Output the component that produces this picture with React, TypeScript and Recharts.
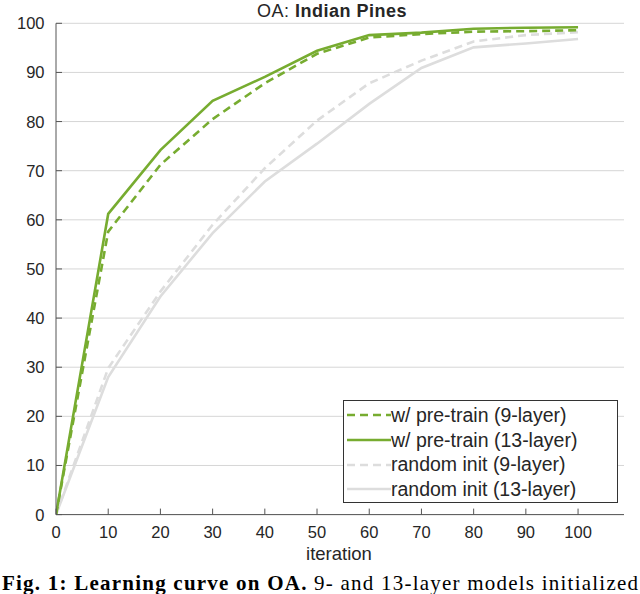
import { LineChart, Line, XAxis, YAxis, CartesianGrid, Legend } from 'recharts'

// learning curve values (overall accuracy, %)
const iterations = [0, 10, 20, 30, 40, 50, 60, 70, 80, 90, 100]
const preTrain9 = [0, 57.6, 71.2, 80.5, 87.8, 93.8, 97.1, 97.8, 98.3, 98.4, 98.6]
const preTrain13 = [0, 61.2, 74.2, 84.2, 89.1, 94.4, 97.6, 98.1, 98.9, 99.1, 99.2]
const random9 = [0, 29.8, 45.4, 59.0, 70.5, 80.2, 87.8, 92.4, 96.3, 97.6, 98.2]
const random13 = [0, 28.0, 44.4, 57.3, 67.8, 75.5, 83.6, 90.9, 95.1, 95.9, 96.8]

const xTicks = [0, 10, 20, 30, 40, 50, 60, 70, 80, 90, 100]
const yTicks = [0, 10, 20, 30, 40, 50, 60, 70, 80, 90, 100]

const GREEN = '#77ac30'
const GRAY = '#dddddd'
const AXIS = '#555555'
const TEXT = '#262626'

const data = iterations.map((it, i) => ({
  it,
  pre9: preTrain9[i],
  pre13: preTrain13[i],
  rand9: random9[i],
  rand13: random13[i],
}))

const series = [
  { key: 'pre9', name: 'w/ pre-train (9-layer)', color: GREEN, dash: '8 5' },
  { key: 'pre13', name: 'w/ pre-train (13-layer)', color: GREEN, dash: undefined },
  { key: 'rand9', name: 'random init (9-layer)', color: GRAY, dash: '8 5' },
  { key: 'rand13', name: 'random init (13-layer)', color: GRAY, dash: undefined },
]

function XTick({ x, y, payload }: any) {
  return (
    <g>
      <line x1={x} x2={x} y1={y} y2={y - 6} stroke={AXIS} />
      <text x={x} y={y + 23} textAnchor="middle" fontSize={16.5} fill={TEXT}>
        {payload.value}
      </text>
    </g>
  )
}

function YTick({ x, y, payload }: any) {
  return (
    <g>
      <line x1={x} x2={x + 6} y1={y} y2={y} stroke={AXIS} />
      <text x={x - 11.5} y={y + 6} textAnchor="end" fontSize={16.5} fill={TEXT}>
        {payload.value}
      </text>
    </g>
  )
}

function LegendBox() {
  return (
    <div
      style={{
        boxSizing: 'border-box',
        width: 275,
        height: 103,
        border: '1px solid #333',
        background: '#fff',
        paddingTop: 2,
        fontSize: 19.5,
        color: TEXT,
      }}
    >
      {series.map((s) => (
        <div key={s.key} style={{ display: 'flex', alignItems: 'center', height: 24.7 }}>
          <svg width={47} height={10} style={{ flex: 'none' }}>
            <line x1={3} x2={47} y1={5} y2={5} stroke={s.color} strokeWidth={2.5} strokeDasharray={s.dash} />
          </svg>
          <span style={{ whiteSpace: 'nowrap' }}>{s.name}</span>
        </div>
      ))}
    </div>
  )
}

export default function App() {
  const drawOrder = [series[3], series[2], series[0], series[1]]
  return (
    <div
      style={{
        position: 'absolute',
        left: 0,
        top: 0,
        width: 640,
        height: 594,
        background: '#fff',
        fontFamily: '"Liberation Sans", Arial, sans-serif',
        overflow: 'hidden',
      }}
    >
      <LineChart width={640} height={594} data={data} margin={{ top: 23.3, right: 16, bottom: 49.4, left: 0 }}>
        <CartesianGrid vertical={false} stroke="#d6d6d6" />
        <XAxis
          dataKey="it"
          type="number"
          domain={[0, 108.8]}
          ticks={xTicks}
          height={30}
          tickSize={0}
          tickMargin={0}
          tickLine={false}
          axisLine={{ stroke: AXIS }}
          tick={<XTick />}
          allowDataOverflow
        />
        <YAxis
          type="number"
          domain={[0, 100]}
          ticks={yTicks}
          width={56}
          tickSize={0}
          tickMargin={0}
          tickLine={false}
          axisLine={{ stroke: AXIS }}
          tick={<YTick />}
        />
        {drawOrder.map((s) => (
          <Line
            key={s.key}
            dataKey={s.key}
            name={s.name}
            type="linear"
            stroke={s.color}
            strokeWidth={2.6}
            strokeDasharray={s.dash}
            dot={false}
            activeDot={false}
            isAnimationActive={false}
          />
        ))}
        <Legend
          layout="vertical"
          align="center"
          verticalAlign="middle"
          wrapperStyle={{ left: 343, top: 400, width: 275, height: 103 }}
          content={() => <LegendBox />}
        />
      </LineChart>
      <svg
        width={640}
        height={594}
        style={{ position: 'absolute', left: 0, top: 0, pointerEvents: 'none' }}
      >
        <text x={332} y={16.5} textAnchor="middle" fontSize={18} letterSpacing={0.5} fill={TEXT}>
          OA: <tspan fontWeight="bold">Indian Pines</tspan>
        </text>
        <text x={339} y={560} textAnchor="middle" fontSize={18.5} fill={TEXT}>
          iteration
        </text>
        <text
          x={2}
          y={590}
          fontSize={21}
          fill="#000"
          fontFamily='"Liberation Serif", "Times New Roman", serif'
          textLength={636}
          lengthAdjust="spacing"
        >
          <tspan fontWeight="bold">Fig. 1: Learning curve on OA.</tspan> 9- and 13-layer models initialized
        </text>
      </svg>
    </div>
  )
}
